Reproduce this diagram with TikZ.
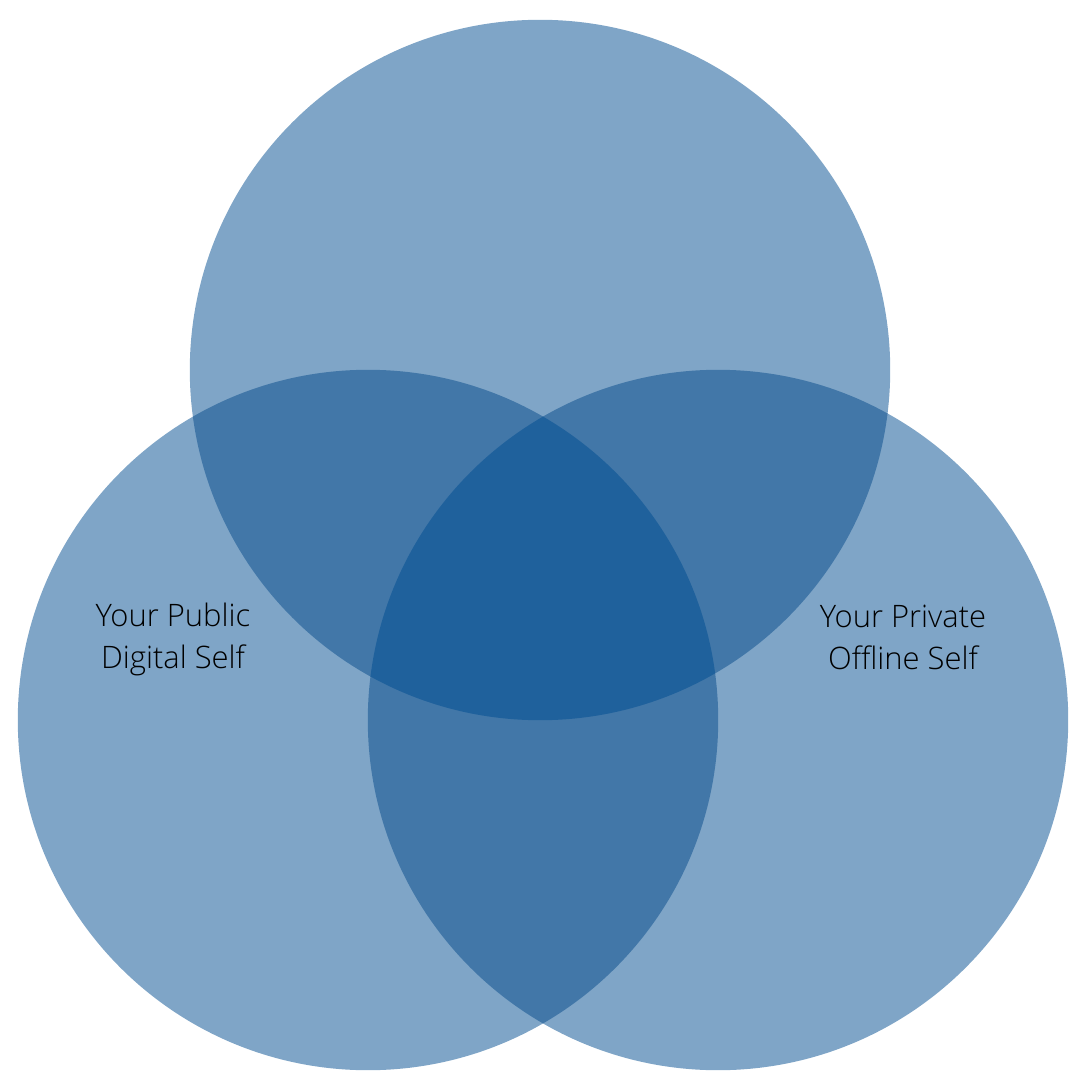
\documentclass[tikz,border=0pt]{standalone}
\usepackage{fontspec}
\setmainfont{Open Sans Light}
\definecolor{one}{HTML}{7FA5C7}
\definecolor{two}{HTML}{4277A8}
\definecolor{three}{HTML}{1F619C}
\begin{document}
\begin{tikzpicture}[x=0.01cm,y=-0.01cm,
  lbl/.style={align=center,inner sep=0pt,text=black,font=\fontsize{8.8}{11.95}\selectfont}]
\useasboundingbox (0,0) rectangle (1080,1080);
\coordinate (T) at (540,370);
\coordinate (L) at (368,720);
\coordinate (R) at (718,720);
\def\rad{3.5cm}
\fill[one] (T) circle[radius=\rad];
\fill[one] (L) circle[radius=\rad];
\fill[one] (R) circle[radius=\rad];
\begin{scope}
  \clip (T) circle[radius=\rad];
  \fill[two] (L) circle[radius=\rad];
  \fill[two] (R) circle[radius=\rad];
\end{scope}
\begin{scope}
  \clip (L) circle[radius=\rad];
  \fill[two] (R) circle[radius=\rad];
\end{scope}
\begin{scope}
  \clip (T) circle[radius=\rad];
  \clip (L) circle[radius=\rad];
  \fill[three] (R) circle[radius=\rad];
\end{scope}
\node[lbl] (pub) at (173,639) {Your Public\\Digital Self};
\node[lbl] (priv) at (903,637) {Your Private\\Offline Self};
\end{tikzpicture}
\end{document}
